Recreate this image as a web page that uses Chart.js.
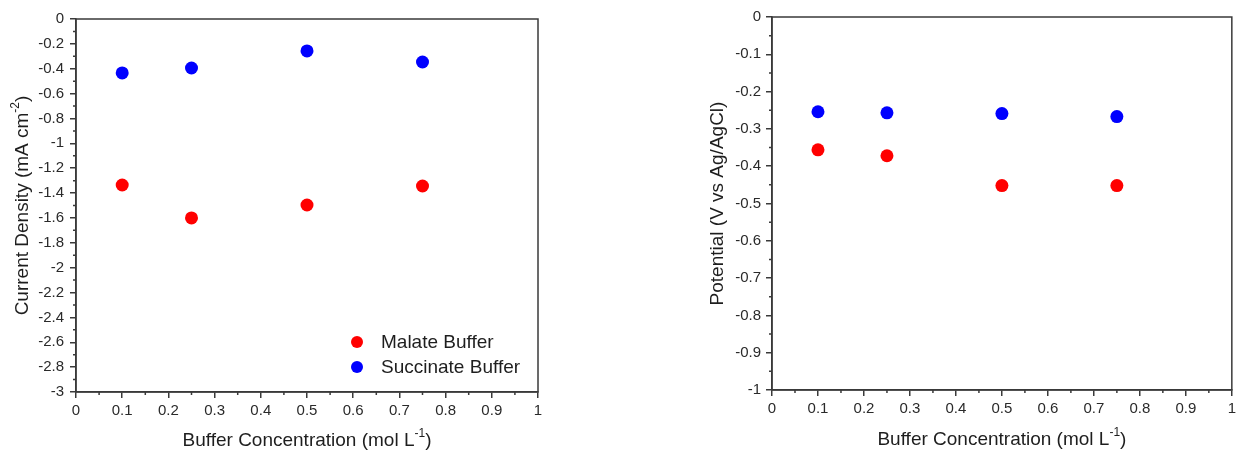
<!DOCTYPE html>
<html>
<head>
<meta charset="utf-8">
<script src="https://cdn.jsdelivr.net/npm/chart.js@4.4.1/dist/chart.umd.min.js"></script>
<style>
  html, body { margin: 0; padding: 0; background: #ffffff; overflow: hidden; }
  #wrap { position: relative; width: 1236px; height: 453px; overflow: hidden; }
  .panel { position: absolute; top: 0; }
</style>
</head>
<body>
<div id="wrap">
  <div class="panel" style="left:0px;"><canvas id="left" width="560" height="453"></canvas></div>
  <div class="panel" style="left:690px;"><canvas id="right" width="550" height="453"></canvas></div>
</div>
<script>
// ---- Data ----
const concentrations = [0.1, 0.25, 0.5, 0.75];
const malateCurrent = [-1.335, -1.60, -1.496, -1.343];
const succinateCurrent = [-0.434, -0.394, -0.257, -0.346];
const malatePotential = [-0.356, -0.372, -0.452, -0.452];
const succinatePotential = [-0.254, -0.257, -0.259, -0.267];
const seriesNames = ['Malate Buffer', 'Succinate Buffer'];
const seriesColors = ['#ff0000', '#0000ff'];

const xTitleParts = [['Buffer Concentration (mol L', false], ['-1', true], [')', false]];
const leftYTitleParts = [['Current Density (mA cm', false], ['-2', true], [')', false]];
const rightYTitleParts = [['Potential (V vs Ag/AgCl)', false]];

const FONT = '"Liberation Sans", Arial, sans-serif';
const AXIS_COLOR = '#3a3a3a';
const TEXT_COLOR = '#1e1e1e';

function pts(xs, ys) { return xs.map((x, i) => ({ x: x, y: ys[i] })); }

function fmt(v) {
  const r = Math.round(v * 100) / 100;
  if (Math.abs(r) < 1e-9) return '0';
  return String(r);
}

function drawParts(ctx, parts, cx, cy, rotate) {
  const mainFont = '19px ' + FONT;
  const supFont = '12px ' + FONT;
  ctx.save();
  ctx.translate(cx, cy);
  if (rotate) ctx.rotate(-Math.PI / 2);
  let total = 0;
  const widths = parts.map(p => {
    ctx.font = p[1] ? supFont : mainFont;
    const w = ctx.measureText(p[0]).width;
    total += w;
    return w;
  });
  let x = -total / 2;
  ctx.fillStyle = TEXT_COLOR;
  ctx.textBaseline = 'middle';
  ctx.textAlign = 'left';
  parts.forEach((p, i) => {
    ctx.font = p[1] ? supFont : mainFont;
    ctx.fillText(p[0], x, p[1] ? -7 : 0);
    x += widths[i];
  });
  ctx.restore();
}

const decorPlugin = {
  id: 'decor',
  afterDraw(chart, args, opts) {
    const ctx = chart.ctx;
    const a = chart.chartArea;
    // frame
    ctx.save();
    ctx.strokeStyle = AXIS_COLOR;
    ctx.lineWidth = 1.5;
    ctx.strokeRect(a.left, a.top, a.right - a.left, a.bottom - a.top);
    // minor ticks
    const xs = chart.scales.x, ys = chart.scales.y;
    ctx.beginPath();
    for (let v = xs.min; v <= xs.max + 1e-9; v += opts.xMinor) {
      const k = Math.round(v / opts.xMinor);
      if (k % 2 === 0) continue;
      const px = xs.getPixelForValue(v);
      ctx.moveTo(px, a.bottom); ctx.lineTo(px, a.bottom + 3);
    }
    for (let i = 0; ; i++) {
      const v = ys.max - i * opts.yMinor;
      if (v < ys.min - 1e-9) break;
      if (i % 2 === 0) continue;
      const py = ys.getPixelForValue(v);
      ctx.moveTo(a.left, py); ctx.lineTo(a.left - 3, py);
    }
    ctx.stroke();
    ctx.restore();
    // titles
    drawParts(ctx, xTitleParts, (a.left + a.right) / 2, opts.xTitleY, false);
    drawParts(ctx, opts.yTitle, opts.yTitleX, (a.top + a.bottom) / 2, true);
    // legend
    if (opts.legend) {
      ctx.save();
      chart.data.datasets.forEach((ds, i) => {
        const y = opts.legend.y + i * opts.legend.gap;
        ctx.fillStyle = ds.backgroundColor;
        ctx.beginPath();
        ctx.arc(opts.legend.x, y, 6, 0, Math.PI * 2);
        ctx.fill();
        ctx.fillStyle = TEXT_COLOR;
        ctx.font = '19px ' + FONT;
        ctx.textBaseline = 'middle';
        ctx.textAlign = 'left';
        ctx.fillText(ds.label, opts.legend.textX, y + 1);
      });
      ctx.restore();
    }
  }
};

function makeChart(id, cfg) {
  return new Chart(document.getElementById(id), {
    type: 'scatter',
    data: {
      datasets: [
        { label: seriesNames[0], data: pts(concentrations, cfg.malate), backgroundColor: seriesColors[0], borderColor: seriesColors[0], pointRadius: 6.5, pointBorderWidth: 0 },
        { label: seriesNames[1], data: pts(concentrations, cfg.succinate), backgroundColor: seriesColors[1], borderColor: seriesColors[1], pointRadius: 6.5, pointBorderWidth: 0 }
      ]
    },
    options: {
      responsive: false,
      animation: false,
      events: [],
      layout: { padding: cfg.padding },
      plugins: {
        legend: { display: false },
        tooltip: { enabled: false },
        decor: cfg.decor
      },
      scales: {
        x: {
          type: 'linear', min: 0, max: 1,
          afterFit: s => { s.height = cfg.xHeight; },
          ticks: { stepSize: 0.1, padding: 4, color: '#2a2a2a', font: { family: FONT, size: 15 }, callback: v => fmt(v), maxRotation: 0, autoSkip: false },
          grid: { display: true, drawOnChartArea: false, drawTicks: true, tickLength: 6, color: AXIS_COLOR, lineWidth: 1.5 },
          border: { display: true, color: AXIS_COLOR, width: 1.5 }
        },
        y: {
          type: 'linear', min: cfg.yMin, max: 0,
          afterFit: s => { s.width = cfg.yWidth; },
          ticks: { stepSize: cfg.yStep, padding: cfg.yPad, color: '#2a2a2a', font: { family: FONT, size: 15 }, callback: v => fmt(v), autoSkip: false },
          grid: { display: true, drawOnChartArea: false, drawTicks: true, tickLength: 6, color: AXIS_COLOR, lineWidth: 1.5 },
          border: { display: true, color: AXIS_COLOR, width: 1.5 }
        }
      }
    },
    plugins: [decorPlugin]
  });
}

makeChart('left', {
  malate: malateCurrent, succinate: succinateCurrent,
  yMin: -3, yStep: 0.2, yWidth: 76, yPad: 6, xHeight: 61,
  padding: { top: 19, right: 22, left: 0, bottom: 0 },
  decor: { xMinor: 0.05, yMinor: 0.1, xTitleY: 441, yTitleX: 23, yTitle: leftYTitleParts,
           legend: { x: 357, y: 342, gap: 25, textX: 381 } }
});

makeChart('right', {
  malate: malatePotential, succinate: succinatePotential,
  yMin: -1, yStep: 0.1, yWidth: 82, yPad: 5, xHeight: 63,
  padding: { top: 17, right: 0, left: 0, bottom: 0 },
  decor: { xMinor: 0.05, yMinor: 0.05, xTitleY: 440, yTitleX: 28, yTitle: rightYTitleParts, legend: null }
});
</script>
</body>
</html>
